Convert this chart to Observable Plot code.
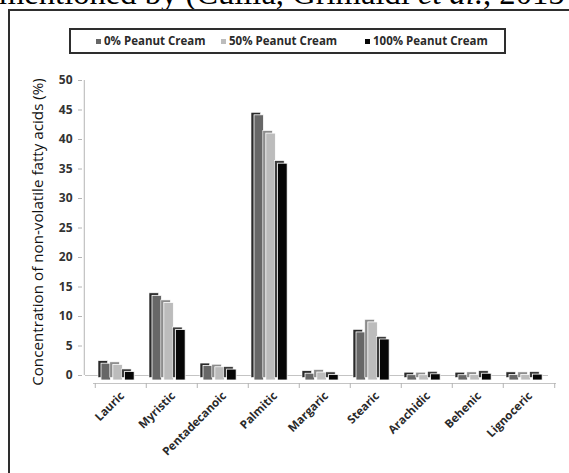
<!DOCTYPE html>
<html>
<head>
<meta charset="utf-8">
<script src="https://cdn.jsdelivr.net/npm/d3@7"></script>
<script src="https://cdn.jsdelivr.net/npm/@observablehq/plot@0.6"></script>
<style>
  body { margin: 0; background: #fff; }
  #wrap { position: relative; width: 569px; height: 473px; overflow: hidden; background: #fff; }
  #cite { position: absolute; left: -1px; top: -25px; font-family: "Liberation Serif", serif; font-size: 32.6px; white-space: nowrap; color: #000; }
  #frame { position: absolute; left: 8px; top: 9px; width: 600px; height: 500px; border: 2px solid #2e2e2e; box-sizing: border-box; }
  #chart { position: absolute; left: 0; top: 0; }
  #legend { position: absolute; left: 69px; top: 28px; width: 437px; height: 26px; border: 2px solid #2e2e2e; box-sizing: border-box; font-family: "Open Sans", sans-serif; font-weight: bold; font-size: 11.5px; color: #2a2a2a; }
  #legend .item { position: absolute; top: 3px; white-space: nowrap; }
  #legend .sw { display: inline-block; width: 5px; height: 5px; margin-right: 3px; vertical-align: 1px; }
</style>
</head>
<body>
<div id="wrap">
  <div id="cite">mentioned by (Cuilla, Grimaldi <i>et al.</i>, 2015</div>
  <div id="frame"></div>
  <div id="chart"></div>
  <div id="legend"></div>
</div>
<script>
// Fatty acids and the three cream formulations
const categories = ["Lauric", "Myristic", "Pentadecanoic", "Palmitic", "Margaric", "Stearic", "Arachidic", "Behenic", "Lignoceric"];
const seriesNames = ["0% Peanut Cream", "50% Peanut Cream", "100% Peanut Cream"];
const cream0 = [2.0, 13.5, 1.6, 44.1, 0.3, 7.3, 0.05, 0.05, 0.1];
const cream50 = [1.8, 12.3, 1.4, 41.0, 0.5, 9.0, 0.05, 0.1, 0.1];
const cream100 = [0.6, 7.7, 1.0, 35.9, 0.1, 6.1, 0.2, 0.3, 0.15];
const yTicks = [0, 5, 10, 15, 20, 25, 30, 35, 40, 45, 50];
const yTitle = "Concentration of non-volatile fatty acids (%)";

// front face, side face
const frontColors = ["#676767", "#bcbcbc", "#060606"];
const sideColors = ["#2a2a2a", "#8c8c8c", "#3c3c3c"];

const seriesValues = [cream0, cream50, cream100];
const rows = categories.flatMap((c, i) =>
  seriesNames.map((s, j) => ({category: c, series: s, index: j, value: seriesValues[j][i]}))
);

const W = 569, H = 473;
const mL = 93, mR = 13, mT = 80, mB = 98;
const bw = (W - mL - mR) / categories.length;
const barW = 10;
const pitch = 11.8;

const barMarks = [];
seriesNames.forEach((s, j) => {
  const data = rows.filter(d => d.index === j);
  const insetLeft = 6 + j * pitch;
  const insetRight = bw - insetLeft - barW;
  // shaded side and cap of the column
  barMarks.push(Plot.barY(data, {
    x: "category", y: "value", fill: sideColors[j],
    insetLeft, insetRight, insetBottom: -5, dx: -3, dy: -2.5,
    stroke: "#fff", strokeWidth: 0.6
  }));
  // front face
  barMarks.push(Plot.barY(data, {
    x: "category", y: "value", fill: frontColors[j],
    insetLeft, insetRight, insetBottom: -5,
    stroke: "#fff", strokeWidth: 0.8
  }));
});

const chart = Plot.plot({
  width: W, height: H,
  marginLeft: mL, marginRight: mR, marginTop: mT, marginBottom: mB,
  style: {fontFamily: "'Open Sans', sans-serif", fontSize: "11px", background: "transparent"},
  x: {domain: categories, padding: 0, axis: null},
  y: {domain: [0, 50], axis: null},
  marks: [
    // floor of the plot area
    Plot.ruleY([0], {stroke: "#c4c4c4", strokeWidth: 1, dx: -8}),
    Plot.ruleY([0], {stroke: "#c4c4c4", strokeWidth: 1, dy: 8}),
    Plot.axisX({tickSize: 5, tickFormat: () => "", label: null, dx: -bw / 2, dy: 8, stroke: "#b4b4b4"}),
    Plot.axisX({ticks: [categories[categories.length - 1]], tickSize: 5, tickFormat: () => "", label: null, dx: bw / 2, dy: 8, stroke: "#b4b4b4"}),
    // value axis
    Plot.ruleX([categories[0]], {y1: 0, y2: 50, dx: -bw / 2 - 11, stroke: "#b4b4b4"}),
    Plot.axisY({ticks: yTicks, tickSize: 4, tickPadding: 6, dx: -11, label: null, stroke: "#b4b4b4", fill: "#333", fontWeight: "bold", fontSize: 12}),
    Plot.text([yTitle], {frameAnchor: "left", textAnchor: "middle", rotate: -90, dx: -55, dy: 4, fontSize: 15.2, fill: "#111"}),
    ...barMarks,
    // category labels
    Plot.text(categories, {x: d => d, frameAnchor: "bottom", rotate: -45, textAnchor: "end", dx: 4, dy: 21, fontWeight: "bold", fontSize: 11.5, fill: "#2a2a2a"})
  ]
});
document.getElementById("chart").appendChild(chart);

// legend
const legend = document.getElementById("legend");
const legendLeft = [25, 150, 294];
seriesNames.forEach((s, j) => {
  const item = document.createElement("span");
  item.className = "item";
  item.style.left = legendLeft[j] + "px";
  const sw = document.createElement("span");
  sw.className = "sw";
  sw.style.background = frontColors[j];
  item.appendChild(sw);
  item.appendChild(document.createTextNode(s));
  legend.appendChild(item);
});
</script>
</body>
</html>
